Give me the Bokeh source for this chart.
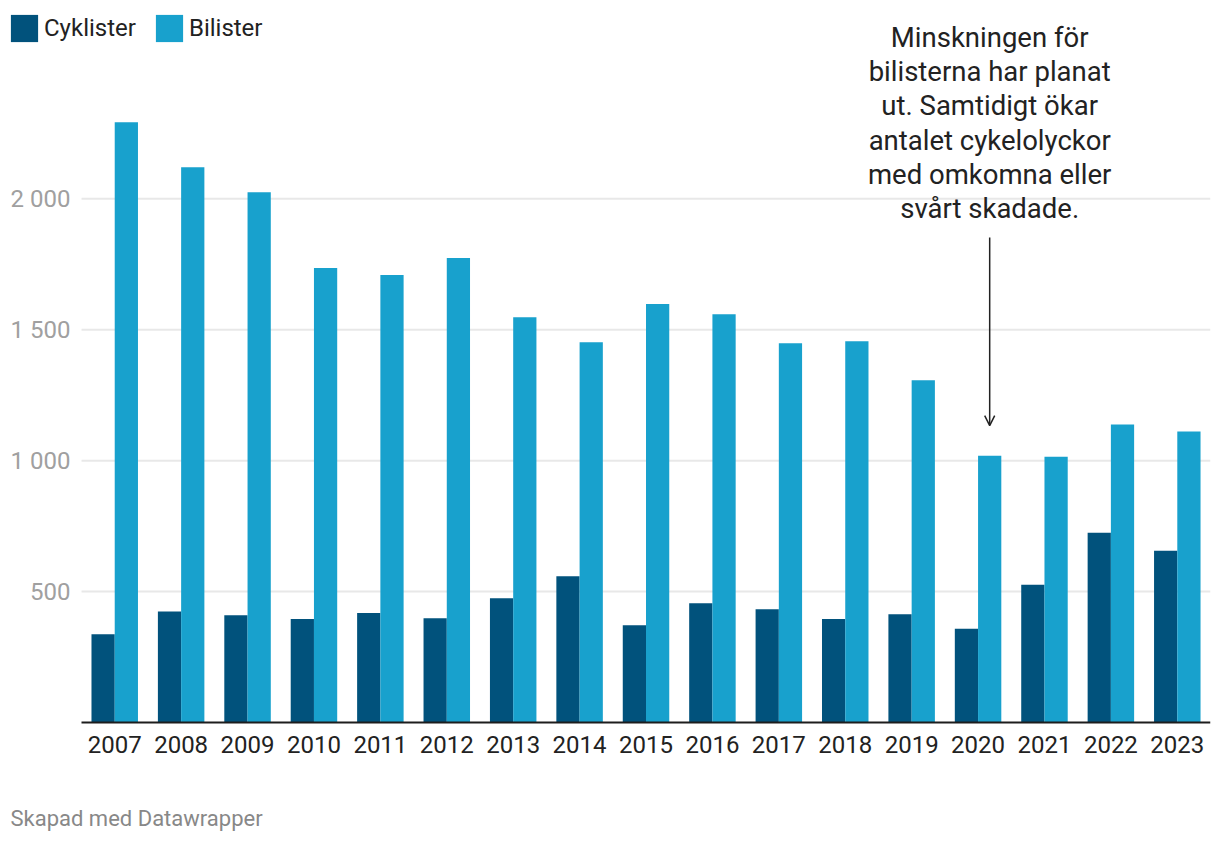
from bokeh.plotting import figure
from bokeh.models import (Range1d, ColumnDataSource, FixedTicker, Legend, LegendItem,
                          Label, Arrow, OpenHead, LinearAxis)
from bokeh.embed import file_html
from bokeh.resources import INLINE

years = [str(y) for y in range(2007, 2024)]
cyklister = [337, 424, 410, 395, 418, 398, 475, 559, 372, 456, 433, 395, 414, 358, 526, 725, 656]
bilister = [2292, 2120, 2025, 1736, 1709, 1774, 1548, 1452, 1598, 1559, 1448, 1456, 1307, 1019, 1015, 1138, 1111]
series_names = ["Cyklister", "Bilister"]
y_ticks = [500, 1000, 1500, 2000]
y_tick_labels = {500: "500", 1000: "1 000", 1500: "1 500", 2000: "2 000"}
annotation_year = "2020"
annotation_text = ("Minskningen för\nbilisterna har planat\nut. Samtidigt ökar\n"
                   "antalet cykelolyckor\nmed omkomna eller\nsvårt skadade.")
footer = "Skapad med Datawrapper"

DARK = "#01527c"
LIGHT = "#18a1cd"
FONT = "Roboto"

n = len(years)
idx = list(range(n))
bw = 0.35
src = ColumnDataSource(dict(i=idx, year=years, cyk=cyklister, bil=bilister,
                            xc=[i - bw / 2 for i in idx], xb=[i + bw / 2 for i in idx]))

# the plot frame covers the whole canvas; axes are pinned inside it
left_pad = 1.22   # room left of the first category (tick labels, legend)
p = figure(x_range=Range1d(-0.5 - left_pad, n - 0.5), y_range=Range1d(-458, 2757),
           width=1218, height=842, min_border_left=0, min_border_right=8,
           min_border_top=0, min_border_bottom=0,
           x_axis_type=None, y_axis_type=None,
           output_backend="svg", toolbar_location=None)
p.outline_line_color = None
p.background_fill_color = "white"
p.border_fill_color = "white"

# horizontal grid lines, limited to the bar area
p.segment(x0=[-0.5] * len(y_ticks), x1=[n - 0.5] * len(y_ticks), y0=y_ticks, y1=y_ticks,
          line_color="#e8e8e8", line_width=2)

r1 = p.vbar(x="xc", top="cyk", bottom=0, width=bw, source=src, fill_color=DARK, line_color=None)
r2 = p.vbar(x="xb", top="bil", bottom=0, width=bw, source=src, fill_color=LIGHT, line_color=None)

# y axis at the left edge of the bar area
yax = LinearAxis(fixed_location=-0.5, ticker=FixedTicker(ticks=y_ticks),
                 major_label_overrides=y_tick_labels,
                 axis_line_color=None, major_tick_line_color=None, minor_tick_line_color=None,
                 major_tick_out=0, major_tick_in=0,
                 major_label_text_color="#a0a0a0", major_label_text_font=FONT,
                 major_label_text_font_size="24px", major_label_standoff=11)
p.add_layout(yax, "left")

# x axis at zero
xax = LinearAxis(fixed_location=0, ticker=FixedTicker(ticks=idx),
                 major_label_overrides={i: y for i, y in zip(idx, years)},
                 bounds=(-0.5, n - 0.5),
                 axis_line_color="#1d1d1d", axis_line_width=2,
                 major_tick_line_color=None, minor_tick_line_color=None,
                 major_tick_out=0, major_tick_in=0,
                 major_label_text_color="#222222", major_label_text_font=FONT,
                 major_label_text_font_size="24px", major_label_standoff=13)
p.add_layout(xax, "below")

# legend
legend = Legend(items=[LegendItem(label=series_names[0], renderers=[r1]),
                       LegendItem(label=series_names[1], renderers=[r2])],
                orientation="horizontal", location=(7, 797),
                glyph_width=34, glyph_height=34, label_height=34,
                label_standoff=3, spacing=16, padding=0, margin=0,
                border_line_color=None, background_fill_alpha=0,
                label_text_font=FONT, label_text_font_size="24px",
                label_text_color="#222222")
p.add_layout(legend, "center")

# annotation
ia = years.index(annotation_year)
xa = ia + bw / 2
ann = Label(x=xa, y=1898, text=annotation_text, text_align="center", text_baseline="bottom",
            text_font=FONT, text_font_size="27.5px", text_color="#222222", text_line_height=1.04)
p.add_layout(ann)
arrow = Arrow(end=OpenHead(size=10, line_width=1.5, line_color="#222222"),
              x_start=xa, y_start=1852, x_end=xa, y_end=bilister[ia] + 115,
              line_width=1.5, line_color="#222222")
p.add_layout(arrow)

foot = Label(x=10, y=24, x_units="screen", y_units="screen", text=footer,
             text_baseline="middle", text_font=FONT, text_font_size="22px",
             text_color="#888888")
p.add_layout(foot)

open("out.html", "w").write(file_html(p, INLINE))
